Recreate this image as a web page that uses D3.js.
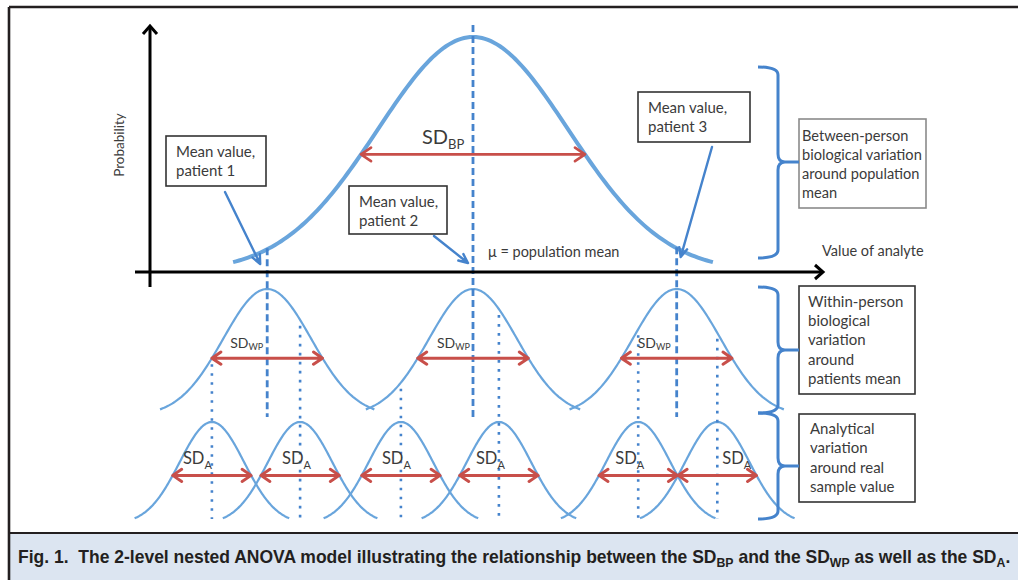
<!DOCTYPE html>
<html>
<head>
<meta charset="utf-8">
<script src="https://cdn.jsdelivr.net/npm/d3@7"></script>
<style>
  body { margin: 0; background: #fff; }
  svg { display: block; }
</style>
</head>
<body>
<svg id="chart" width="1018" height="580"></svg>
<script>
// Two-level nested ANOVA: population -> patients -> analytical replicates (analyte units)
const populationMean = 50;
const sdBetween = 13.6;
const patientLabels = ["patient 1", "patient 2", "patient 3"];
const patientMeans = [20.6, 50, 79.1];
const sdWithin = 6.3;
const sampleValues = [[12.7, 25.3], [39.7, 53.7], [73.6, 84.9]];
const sdAnalytical = 4.6;
// half-width of the SD arrows (between, within, analytical), analyte units
const spreadArrowHalf = [16, 7.9, 5.6];
const axisTitles = ["Probability", "Value of analyte"];
const meanNote = "μ = population mean";
const levelNotes = [
  ["Between-person", "biological variation", "around population", "mean"],
  ["Within-person", "biological", "variation", "around", "patients mean"],
  ["Analytical", "variation", "around real", "sample value"]
];
const captionParts = [
  ["Fig. 1.\u00a0\u00a0The 2-level nested ANOVA model illustrating the relationship between the SD", false],
  ["BP", true], [" and the SD", false], ["WP", true], [" as well as the SD", false], ["A", true], [".", false]
];

const C = {
  curve: "#69a5dc", mark: "#4583cc", red: "#c84f4a",
  ink: "#3b3b3b", frame: "#231f20", band: "#dce5f1"
};
const FONT = "Lato, 'Open Sans', sans-serif";

const svg = d3.select("#chart");

// scales: one analyte axis, one relative-density scale per level
const x = d3.scaleLinear().domain([0, 100]).range([123, 823]);
const yBP = d3.scaleLinear().domain([0, 1]).range([272, 37]);
const yWP = d3.scaleLinear().domain([0, 1]).range([416, 289]);
const yA = d3.scaleLinear().domain([0, 1]).range([524, 422]);

const rel = (v, m, s) => Math.exp(-0.5 * ((v - m) / s) ** 2);
const bell = (m, s, zSpan) =>
  d3.range(-zSpan, zSpan + 1e-9, zSpan / 80).map(z => [m + z * s, rel(m + z * s, m, s)]);
const bellPath = ys => d3.line().x(d => x(d[0])).y(d => ys(d[1]));

// ---- caption band and frame ----
svg.append("rect").attr("x", 10).attr("y", 534).attr("width", 1008).attr("height", 46).attr("fill", C.band);
svg.append("path").attr("d", "M9,7H1018 M9,7V580").attr("stroke", C.frame).attr("stroke-width", 2.6).attr("fill", "none");
svg.append("path").attr("d", "M9,533H1018").attr("stroke", C.frame).attr("stroke-width", 2).attr("fill", "none");

const cap = svg.append("text").attr("x", 18).attr("y", 563)
  .attr("font-family", "'Liberation Sans Narrow', 'Arial Narrow', sans-serif")
  .attr("font-weight", "bold").attr("font-size", 18.5).attr("fill", C.frame);
captionParts.forEach(([t, sub], i) => {
  const ts = cap.append("tspan").text(t).attr("font-size", sub ? 13 : 18.5);
  if (sub) ts.attr("dy", 4);
  else if (i > 0 && captionParts[i - 1][1]) ts.attr("dy", -4);
});
const capW = cap.node().getComputedTextLength();
cap.attr("transform", `translate(18,0) scale(${993 / capW},1) translate(-18,0)`);

// ---- bell curves ----
const g = svg.append("g").attr("fill", "none");
g.append("path").datum(bell(populationMean, sdBetween, 2.52)).attr("d", bellPath(yBP))
  .attr("stroke", C.curve).attr("stroke-width", 4);
patientMeans.forEach(m => {
  g.append("path").datum(bell(m, sdWithin, 2.43)).attr("d", bellPath(yWP))
    .attr("stroke", C.curve).attr("stroke-width", 2.2);
});
sampleValues.flat().forEach(s => {
  g.append("path").datum(bell(s, sdAnalytical, 2.4)).attr("d", bellPath(yA))
    .attr("stroke", C.curve).attr("stroke-width", 2.2);
});

// ---- patient means (dashed) ----
patientMeans.forEach(m => {
  const top = m === populationMean ? yBP(1) - 12 : yBP(rel(m, populationMean, sdBetween)) - 1;
  g.append("line").attr("x1", x(m)).attr("x2", x(m)).attr("y1", top).attr("y2", 417)
    .attr("stroke", C.mark).attr("stroke-width", 2.8).attr("stroke-dasharray", "7,4");
});

// ---- real sample values (dotted) ----
sampleValues.forEach((pair, i) => pair.forEach(s => {
  g.append("line").attr("x1", x(s)).attr("x2", x(s))
    .attr("y1", yWP(rel(s, patientMeans[i], sdWithin)) + 6).attr("y2", 519)
    .attr("stroke", C.mark).attr("stroke-width", 2.6).attr("stroke-dasharray", "2.6,6.4");
}));

// ---- SD double arrows ----
function doubleArrow(m, half, y, head, w) {
  const a = x(m - half), b = x(m + half);
  g.append("path")
    .attr("d", `M${a},${y}H${b} M${a + head},${y - head * 0.68}L${a},${y}L${a + head},${y + head * 0.68}` +
      ` M${b - head},${y - head * 0.68}L${b},${y}L${b - head},${y + head * 0.68}`)
    .attr("stroke", C.red).attr("stroke-width", w).attr("stroke-linejoin", "round").attr("stroke-linecap", "round");
}
doubleArrow(populationMean, spreadArrowHalf[0],
  yBP(rel(populationMean + spreadArrowHalf[0], populationMean, sdBetween)), 10, 2.6);
patientMeans.forEach(m =>
  doubleArrow(m, spreadArrowHalf[1], yWP(rel(m + spreadArrowHalf[1], m, sdWithin)), 9, 3));
sampleValues.flat().forEach(s =>
  doubleArrow(s, spreadArrowHalf[2], yA(rel(s + spreadArrowHalf[2], s, sdAnalytical)), 9, 3));

// ---- SD labels ----
function sdLabel(px, py, size, subSize, sub, shift) {
  const t = svg.append("text").attr("x", px).attr("y", py).attr("font-family", FONT)
    .attr("fill", C.ink).attr("font-size", size);
  t.append("tspan").text("SD");
  t.append("tspan").text(sub).attr("font-size", subSize).attr("dy", shift);
}
sdLabel(x(populationMean) - 51, 144, 20, 13, "BP", 5);
const wpLabelDx = [-37, -36, -39];
patientMeans.forEach((m, i) => sdLabel(x(m) + wpLabelDx[i], 348, 14, 9, "WP", 2));
const aLabelDx = [-29, -18, -19, -23, -23, 5];
sampleValues.flat().forEach((s, i) => sdLabel(x(s) + aLabelDx[i], 464, 16.5, 11, "A", 5));

// ---- axes ----
const axes = svg.append("g").attr("stroke", "#000").attr("fill", "none")
  .attr("stroke-width", 3).attr("stroke-linejoin", "miter");
axes.append("path").attr("d", "M135,272H822");
axes.append("path").attr("d", "M815,265L823,272L815,279");
axes.append("path").attr("d", "M150,287V27");
axes.append("path").attr("d", "M143,34L150,26L157,34");

svg.append("text").attr("transform", "translate(124,145) rotate(-90)")
  .attr("text-anchor", "middle").attr("font-family", FONT).attr("font-size", 13.5)
  .attr("fill", C.ink).text(axisTitles[0]);
svg.append("text").attr("x", 822).attr("y", 256).attr("font-family", FONT).attr("font-size", 14.5)
  .attr("fill", C.ink).text(axisTitles[1]);
svg.append("text").attr("x", 488).attr("y", 257).attr("font-family", FONT).attr("font-size", 14.5)
  .attr("fill", C.ink).text(meanNote);

// ---- note boxes ----
function noteBox(bx, by, bw, bh, tx, lines, firstBase, step, stroke, size) {
  svg.append("rect").attr("x", bx).attr("y", by).attr("width", bw).attr("height", bh)
    .attr("fill", "#fff").attr("stroke", stroke).attr("stroke-width", 1.6);
  const t = svg.append("text").attr("font-family", FONT).attr("font-size", size).attr("fill", C.ink);
  lines.forEach((l, i) => t.append("tspan").attr("x", tx).attr("y", firstBase + i * step).text(l));
}
const patientBoxes = [[166, 136, 100, 50], [349, 186, 98, 48], [638, 92, 112, 50]];
patientLabels.forEach((p, i) => {
  const [bx, by, bw, bh] = patientBoxes[i];
  noteBox(bx, by, bw, bh, bx + 10, ["Mean value,", p], by + 21, 19, "#333", 15);
});
noteBox(799, 119, 127, 89, 802, levelNotes[0], 141, 19, "#8a8a8a", 14.6);
noteBox(799, 286, 116, 108, 808, levelNotes[1], 307, 19.2, "#333", 15);
noteBox(799, 414, 116, 88, 810, levelNotes[2], 434, 19.3, "#333", 15);

// ---- pointers from the patient boxes to the means ----
const pointerFrom = [[225, 192], [434, 236], [712, 147]];
const pointerDx = [-7, -5, 4];
const pointerY = [264, 263, 257];
patientMeans.forEach((m, i) => {
  const [sx, sy] = pointerFrom[i];
  const ex = x(m) + pointerDx[i], ey = pointerY[i];
  const ang = Math.atan2(ey - sy, ex - sx), L = 10, w = 0.42;
  const h1 = [ex - L * Math.cos(ang - w), ey - L * Math.sin(ang - w)];
  const h2 = [ex - L * Math.cos(ang + w), ey - L * Math.sin(ang + w)];
  svg.append("path")
    .attr("d", `M${sx},${sy}L${ex},${ey} M${h1}L${ex},${ey}L${h2}`)
    .attr("stroke", C.mark).attr("stroke-width", 2.4).attr("fill", "none")
    .attr("stroke-linejoin", "round").attr("stroke-linecap", "round");
});

// ---- braces for the three levels ----
function brace(yTop, yMid, yBot) {
  const xe = 758, xs = 778, xt = 799, r = 8;
  return `M${xe},${yTop}Q${xs},${yTop} ${xs},${yTop + r}V${yMid - r}Q${xs},${yMid} ${xs + 7},${yMid}H${xt}` +
    `M${xs + 7},${yMid}Q${xs},${yMid} ${xs},${yMid + r}V${yBot - r}Q${xs},${yBot} ${xe},${yBot}`;
}
[[67, 162, 258], [287, 350, 413], [413, 466, 519]].forEach(([a, b, c]) => {
  svg.append("path").attr("d", brace(a, b, c)).attr("stroke", C.mark)
    .attr("stroke-width", 3).attr("fill", "none");
});
</script>
</body>
</html>
